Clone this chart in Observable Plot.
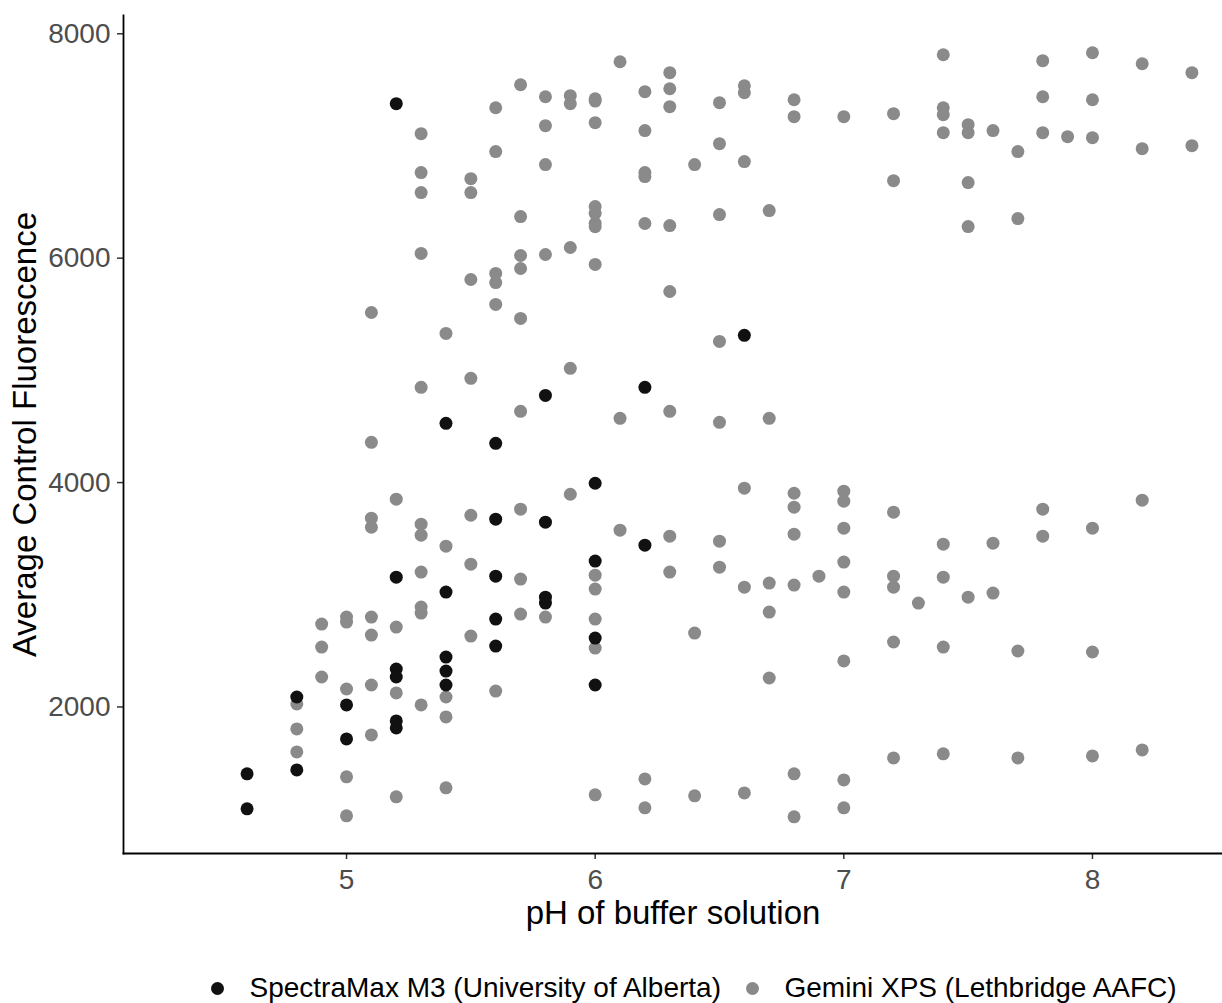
<!DOCTYPE html>
<html>
<head>
<meta charset="utf-8">
<script src="https://cdn.jsdelivr.net/npm/d3@7"></script>
<script src="https://cdn.jsdelivr.net/npm/@observablehq/plot@0.6"></script>
<style>
  body { margin: 0; background: #ffffff; font-family: "Liberation Sans", Arial, sans-serif; }
  #chart { width: 1222px; }
  .legend { position: relative; width: 1222px; height: 56px; font-size: 28px; color: #000; }
  .item { position: absolute; top: 0; height: 56px; display: flex; align-items: center; white-space: nowrap; }
  .swatch { width: 13px; height: 13px; border-radius: 50%; margin-right: 26px; flex: none; }
</style>
</head>
<body>
<div id="chart"></div>
<script>
// ---- data ----
const seriesNames = ["Gemini XPS (Lethbridge AAFC)", "SpectraMax M3 (University of Alberta)"];
const seriesColors = ["#8a8a8a", "#111111"];
const legendOrder = ["SpectraMax M3 (University of Alberta)", "Gemini XPS (Lethbridge AAFC)"];

const xTitle = "pH of buffer solution";
const yTitle = "Average Control Fluorescence";
const xTicks = [5, 6, 7, 8];
const yTicks = [2000, 4000, 6000, 8000];

// SpectraMax M3 (black)
const spectraPH = [4.6, 4.8, 5.0, 5.2, 5.4, 5.6, 5.8, 6.0, 6.2, 6.6];
const spectraFluor = [
  [1404, 1092],
  [2089, 1439],
  [2018, 1715],
  [7377, 3157, 2338, 2267, 1876, 1813],
  [4528, 3024, 2445, 2320, 2196],
  [4350, 3674, 3166, 2783, 2543],
  [4777, 3647, 2979, 2926],
  [3994, 3300, 2614, 2196],
  [4849, 3442],
  [5312]
];

// Gemini XPS (grey)
const geminiPH = [4.8, 4.9, 5.0, 5.1, 5.2, 5.3, 5.4, 5.5, 5.6, 5.7, 5.8, 5.9, 6.0, 6.1, 6.2, 6.3, 6.4, 6.5, 6.6, 6.7, 6.8, 6.9, 7.0, 7.2, 7.3, 7.4, 7.5, 7.6, 7.7, 7.8, 7.9, 8.0, 8.2, 8.4];
const geminiFluor = [
  [2027, 1804, 1599],
  [2739, 2534, 2267],
  [2801, 2757, 2160, 1377, 1030],
  [5516, 4359, 3683, 3602, 2801, 2641, 2196, 1751],
  [3852, 2712, 2125, 1199],
  [7110, 6763, 6585, 6042, 4849, 3629, 3531, 3202, 2890, 2837, 2018],
  [5329, 3433, 2089, 1911, 1279],
  [6709, 6585, 5810, 4929, 3709, 3273, 2632],
  [7341, 6950, 5864, 5783, 5588, 2142],
  [7546, 6371, 6024, 5908, 5463, 4635, 3763, 3140, 2828],
  [7439, 7181, 6834, 6033, 2801],
  [7448, 7377, 6095, 5018, 3896],
  [7421, 7400, 7208, 6460, 6400, 6310, 6280, 5944, 3175, 3051, 2783, 2525, 1217],
  [7751, 4573, 3576],
  [7484, 7137, 6763, 6727, 6309, 1359, 1101],
  [7653, 7510, 7350, 6291, 5703, 4635, 3522, 3202],
  [6834, 2659, 1208],
  [7386, 7021, 6389, 5258, 4537, 3478, 3246],
  [7537, 7475, 6861, 3950, 3068, 1234],
  [6424, 4573, 3104, 2846, 2258],
  [7412, 7261, 3905, 3781, 3540, 3086, 1404, 1021],
  [3166],
  [7261, 3923, 3834, 3594, 3291, 3024, 2410, 1350, 1101],
  [7288, 6691, 3736, 3166, 3068, 2579, 1546],
  [2926],
  [7813, 7341, 7279, 7119, 3451, 3157, 2534, 1582],
  [7190, 7119, 6674, 6282, 2979],
  [7137, 3460, 3015],
  [6950, 6353, 2499, 1546],
  [7760, 7439, 7119, 3763, 3522],
  [7083],
  [7831, 7412, 7074, 3594, 2490, 1564],
  [7733, 6976, 3843, 1617],
  [7653, 7003]
];

// ---- build table (grey first so black draws on top) ----
function flatten(series, phs, vals) {
  const out = [];
  phs.forEach((ph, i) => vals[i].forEach(v => out.push({series, ph, fluor: v})));
  return out;
}
const rows = [
  ...flatten(seriesNames[0], geminiPH, geminiFluor),
  ...flatten(seriesNames[1], spectraPH, spectraFluor)
];

const font = "'Liberation Sans', Arial, Helvetica, sans-serif";
const plainFormat = d => String(d);

const chart = Plot.plot({
  width: 1222,
  height: 960,
  marginLeft: 123,
  marginRight: 0,
  marginTop: 15,
  marginBottom: 107,
  style: { fontFamily: font, background: "#ffffff", overflow: "visible" },
  x: { domain: [4.103, 8.523] },
  y: { domain: [694, 8163] },
  color: { domain: seriesNames, range: seriesColors },
  marks: [
    Plot.axisX(xTicks, { tickSize: 6, tickPadding: 10, fontSize: 28, fill: "#4d4d4d", stroke: "#333333", strokeWidth: 1.5, tickFormat: plainFormat, label: null }),
    Plot.axisX([], { tickSize: 0, label: xTitle, labelAnchor: "center", labelArrow: "none", labelOffset: 70, fontSize: 33, fill: "#000000" }),
    Plot.axisY(yTicks, { tickSize: 6, tickPadding: 7, fontSize: 28, fill: "#4d4d4d", stroke: "#333333", strokeWidth: 1.5, tickFormat: plainFormat, label: null }),
    Plot.axisY([], { tickSize: 0, label: yTitle, labelAnchor: "center", labelArrow: "none", labelOffset: 111, fontSize: 33, fill: "#000000" }),
    Plot.frame({ anchor: "left", stroke: "#000000", strokeWidth: 1.8 }),
    Plot.frame({ anchor: "bottom", stroke: "#000000", strokeWidth: 1.8 }),
    Plot.dot(rows, { x: "ph", y: "fluor", fill: "series", r: 6.5 })
  ]
});
document.getElementById("chart").appendChild(chart);

// ---- legend (below the SVG) ----
const legend = document.createElement("div");
legend.className = "legend";
const colorOf = d3.scaleOrdinal(seriesNames, seriesColors);
const lefts = [210.5, 745.5];
legendOrder.forEach((name, i) => {
  const item = document.createElement("div");
  item.className = "item";
  item.style.left = lefts[i] + "px";
  const sw = document.createElement("span");
  sw.className = "swatch";
  sw.style.background = colorOf(name);
  const tx = document.createElement("span");
  tx.textContent = name;
  item.appendChild(sw);
  item.appendChild(tx);
  legend.appendChild(item);
});
document.getElementById("chart").appendChild(legend);
</script>
</body>
</html>
